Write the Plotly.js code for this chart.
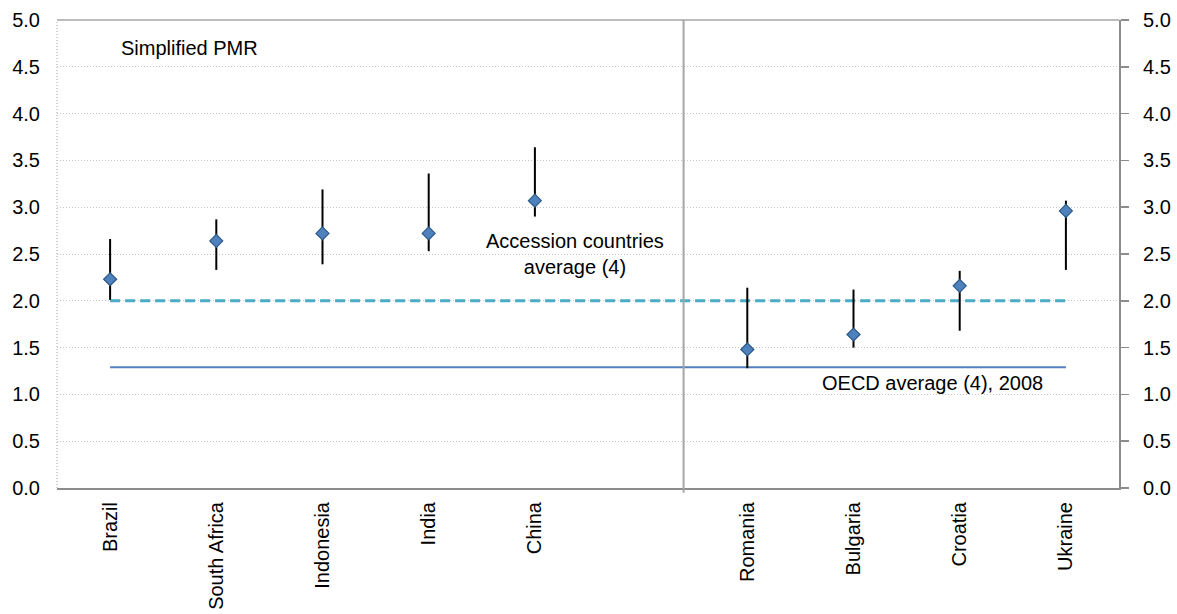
<!DOCTYPE html>
<html>
<head>
<meta charset="utf-8">
<script src="https://cdn.plot.ly/plotly-3.0.1.min.js"></script>
<style>
  html, body { margin: 0; padding: 0; background: #fff; }
  #chart { width: 1177px; height: 614px; }
</style>
</head>
<body>
<div id="chart"></div>
<script>
// Countries, grouped: five partner economies, an empty slot, four accession countries
const countries = ["Brazil", "South Africa", "Indonesia", "India", "China", "", "Romania", "Bulgaria", "Croatia", "Ukraine"];
// Slot positions along the category axis (slot 5 is the gap)
const slots = [0, 1, 2, 3, 4, 6, 7, 8, 9];
const names = ["Brazil", "South Africa", "Indonesia", "India", "China", "Romania", "Bulgaria", "Croatia", "Ukraine"];
// Simplified PMR score and range (low / high)
const pmr  = [2.23, 2.64, 2.72, 2.72, 3.07, 1.48, 1.64, 2.16, 2.96];
const high = [2.66, 2.87, 3.19, 3.36, 3.64, 2.14, 2.12, 2.32, 3.07];
const low  = [2.01, 2.33, 2.39, 2.53, 2.90, 1.28, 1.50, 1.68, 2.33];
// Reference averages
const accessionAvg = 2.0;
const oecdAvg = 1.29;
const yTicks = [0, 0.5, 1, 1.5, 2, 2.5, 3, 3.5, 4, 4.5, 5];

const errPlus = high.map((h, i) => h - pmr[i]);
const errMinus = pmr.map((v, i) => v - low[i]);

const font = "Liberation Sans, Arial, sans-serif";
const fs = 20;

const traces = [
  {
    x: [slots[0], slots[slots.length - 1]],
    y: [oecdAvg, oecdAvg],
    mode: "lines",
    line: { color: "#4f81bd", width: 2 },
    hoverinfo: "skip",
    showlegend: false
  },
  {
    x: [slots[0], slots[slots.length - 1]],
    y: [accessionAvg, accessionAvg],
    mode: "lines",
    line: { color: "#4bacc6", width: 3, dash: "10px,5px" },
    hoverinfo: "skip",
    showlegend: false
  },
  {
    x: slots,
    y: pmr,
    text: names,
    mode: "markers",
    marker: { symbol: "diamond", size: 10, color: "#4f81bd", line: { color: "#2c5987", width: 1.2 } },
    error_y: { type: "data", symmetric: false, array: errPlus, arrayminus: errMinus, color: "#000", thickness: 2, width: 0 },
    showlegend: false
  },
  {
    // invisible twin so the right-hand axis is drawn
    x: slots,
    y: pmr,
    yaxis: "y2",
    mode: "markers",
    marker: { opacity: 0 },
    hoverinfo: "skip",
    showlegend: false
  }
];

const layout = {
  width: 1177,
  height: 614,
  margin: { l: 57, r: 58, t: 20, b: 126 },
  paper_bgcolor: "#fff",
  plot_bgcolor: "#fff",
  font: { family: font, size: fs, color: "#000" },
  showlegend: false,
  xaxis: {
    range: [-0.5, 9.5],
    tickvals: countries.map((_, i) => i).filter(i => countries[i] !== ""),
    ticktext: countries.filter(c => c !== ""),
    tickangle: -90,
    ticks: "",
    showgrid: false,
    zeroline: false,
    showline: true,
    linecolor: "#8c8c8c",
    linewidth: 2,
    tickfont: { family: font, size: fs, color: "#000" },
    ticklabelstandoff: 4
  },
  yaxis: {
    range: [0, 5],
    tickvals: yTicks,
    ticktext: yTicks.map(v => v.toFixed(1)),
    ticks: "",
    showgrid: true,
    gridcolor: "#c4c4c4",
    griddash: "1px,2px",
    gridwidth: 1,
    zeroline: false,
    showline: false,
    tickfont: { family: font, size: fs, color: "#000" },
    ticklabelstandoff: 16
  },
  yaxis2: {
    range: [0, 5],
    overlaying: "y",
    side: "right",
    tickvals: yTicks,
    ticktext: yTicks.map(v => v.toFixed(1)),
    ticks: "outside",
    ticklen: 8,
    tickcolor: "#8c8c8c",
    tickwidth: 1.5,
    showgrid: false,
    zeroline: false,
    showline: true,
    linecolor: "#8c8c8c",
    linewidth: 2,
    tickfont: { family: font, size: fs, color: "#000" },
    ticklabelstandoff: 10
  },
  shapes: [
    // frame top and dotted left edge
    { type: "line", xref: "paper", yref: "paper", x0: 0, x1: 1, y0: 1, y1: 1, line: { color: "#a6a6a6", width: 1.5 } },
    { type: "line", xref: "paper", yref: "paper", x0: 0, x1: 0, y0: 0, y1: 1, line: { color: "#c4c4c4", width: 1.5, dash: "1px,2px" } },
    // divider between the two country groups
    { type: "line", xref: "x", yref: "paper", x0: 5.4, x1: 5.4, y0: -0.01, y1: 1, line: { color: "#a6a6a6", width: 2 } }
  ],
  annotations: [
    { xref: "paper", yref: "paper", x: 0.058, y: 0.941, xanchor: "left", yanchor: "middle", showarrow: false,
      text: "Simplified PMR", font: { family: font, size: fs, color: "#000" } },
    { xref: "x", yref: "y", x: 4.38, y: 2.5, xanchor: "center", yanchor: "middle", showarrow: false,
      text: "Accession countries<br>average (4)", align: "center", font: { family: font, size: fs, color: "#000" } },
    { xref: "x", yref: "y", x: 7.74, y: 1.12, xanchor: "center", yanchor: "middle", showarrow: false,
      text: "OECD average (4), 2008", font: { family: font, size: fs, color: "#000" } }
  ]
};

Plotly.newPlot("chart", traces, layout, { displayModeBar: false, staticPlot: true });
</script>
</body>
</html>
